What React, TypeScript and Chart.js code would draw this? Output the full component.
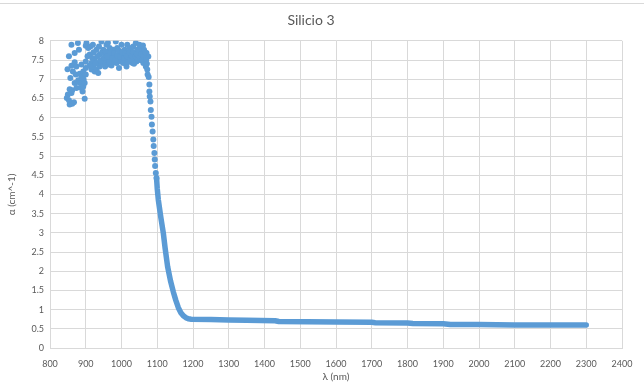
import React, { useEffect, useRef } from "react";
import { Chart, registerables } from "chart.js";

Chart.register(...registerables);

const chartTitle = "Silicio 3";
const xAxisTitle = "λ (nm)";
const yAxisTitle = "α (cm^-1)";

// Noisy plateau and discrete upper descent (nm, alpha)
const cloudNm = [
  860, 878, 853, 849, 860, 869, 864, 857, 872, 883, 874, 888, 881, 869, 850, 847, 853, 855, 862, 867,
  860, 855, 862, 874, 869, 879, 883, 888, 891, 894, 897, 893, 897, 888, 893, 900, 900, 900, 902, 900,
  907, 911, 916, 916, 921, 925, 925, 930, 930, 935, 935, 939, 939, 944, 944, 949, 949, 954, 954, 958,
  958, 963, 963, 967, 967, 972, 972, 977, 977, 981, 984, 986, 988, 991, 993, 995, 997, 1000, 1003, 1005,
  1009, 1012, 1014, 1016, 1019, 1021, 1023, 1026, 1028, 1031, 1033, 1036, 1037, 1040, 1042, 1044, 1047, 1050, 1051, 1053,
  1056, 1059, 1061, 1063, 1065, 1068, 1070, 1072, 1075, 1073, 1076,
  905, 910, 913, 918, 922, 927, 932, 937, 941, 946, 951, 956, 960, 965, 969, 974, 979, 983, 988, 992,
  996, 1002, 1007, 1011, 1015, 1018, 1022, 1025, 1029, 1032, 1035, 1039, 1043, 1046, 1049, 1052, 1055, 1058, 1062, 1066,
  1069, 1071, 920, 962, 1060,
  1078, 1078, 1079, 1081, 1082, 1084, 1085, 1087, 1089, 1090, 1092, 1093, 1094, 1096, 1098,
];
const cloudAlpha = [
  7.9, 7.94, 7.6, 7.26, 7.35, 7.44, 7.2, 7.03, 7.12, 7.14, 7.33, 7.38, 7.77, 7.68, 6.6, 6.51, 6.45, 6.34, 6.36, 6.4,
  6.64, 6.74, 6.71, 6.77, 6.9, 6.97, 6.9, 6.77, 6.68, 6.99, 6.49, 6.81, 6.9, 7.07, 7.2, 7.12, 7.29, 7.46, 7.94, 7.87,
  7.81, 7.64, 7.42, 7.25, 7.33, 7.52, 7.2, 7.25, 7.77, 7.42, 7.16, 7.64, 7.33, 7.98, 7.5, 7.77, 7.42, 7.59, 7.33, 7.9,
  7.46, 7.68, 7.38, 7.5, 7.81, 7.36, 7.64, 7.46, 7.77, 7.59, 7.98, 7.42, 7.81, 7.55, 7.29, 7.72, 7.46, 7.9, 7.59, 7.42,
  7.77, 7.5, 7.33, 7.9, 7.64, 7.46, 7.81, 7.59, 7.72, 7.42, 7.85, 7.55, 7.68, 7.94, 7.46, 7.77, 7.59, 7.9, 7.68, 7.5,
  7.81, 7.64, 7.42, 7.77, 7.55, 7.33, 7.68, 7.25, 7.59, 7.12, 7.06,
  7.6, 7.35, 7.85, 7.55, 7.7, 7.4, 7.6, 7.85, 7.48, 7.7, 7.55, 7.72, 7.6, 7.45, 7.7, 7.55, 7.68, 7.5, 7.62, 7.75,
  7.58, 7.7, 7.55, 7.68, 7.6, 7.45, 7.7, 7.52, 7.6, 7.7, 7.4, 7.6, 7.65, 7.5, 7.72, 7.58, 7.65, 7.5, 7.6, 7.7,
  7.5, 7.4, 7.9, 7.95, 7.88,
  6.86, 6.68, 6.55, 6.42, 6.2, 6.02, 5.82, 5.64, 5.43, 5.26, 5.08, 4.91, 4.74, 4.56, 4.43,
];

// Dense lower descent and flat tail (nm, alpha)
const curveNm = [
  1098, 1100, 1103, 1110, 1117, 1122, 1129, 1137, 1145, 1152, 1159, 1166, 1173, 1180, 1187, 1195,
  1250, 1300, 1350, 1430, 1440, 1600, 1700, 1710, 1800, 1815, 1900, 1920, 2000, 2100, 2200, 2300,
];
const curveAlpha = [
  4.43, 4.15, 3.86, 3.4, 2.99, 2.6, 2.12, 1.75, 1.46, 1.24, 1.05, 0.92, 0.84, 0.79, 0.76, 0.75,
  0.74, 0.73, 0.72, 0.71, 0.69, 0.68, 0.67, 0.66, 0.65, 0.64, 0.63, 0.61, 0.61, 0.6, 0.6, 0.6,
];

const xMin = 800;
const xMax = 2400;
const xStep = 100;
const yMin = 0;
const yMax = 8;
const yStep = 0.5;

const BLUE = "#5B9BD5";
const GRID = "#d9d9d9";
const TEXT = "#595959";
const FONT = "Lato, 'Open Sans', sans-serif";

export default function App() {
  const ref = useRef<HTMLCanvasElement | null>(null);

  useEffect(() => {
    if (!ref.current) return;
    const borderPlugin = {
      id: "outerBorder",
      beforeDraw(chart: any) {
        const ctx = chart.ctx;
        ctx.save();
        ctx.fillStyle = "#ffffff";
        ctx.fillRect(0, 0, chart.width, chart.height);
        ctx.strokeStyle = GRID;
        ctx.lineWidth = 1;
        ctx.beginPath();
        ctx.moveTo(0, 3.5);
        ctx.lineTo(chart.width, 3.5);
        ctx.stroke();
        ctx.restore();
      },
    };
    const chart = new Chart(ref.current, {
      type: "scatter",
      data: {
        datasets: [
          {
            data: cloudNm.map((x, i) => ({ x, y: cloudAlpha[i] })),
            backgroundColor: BLUE,
            borderColor: BLUE,
            borderWidth: 0,
            pointRadius: 3,
            showLine: false,
          },
          {
            data: curveNm.map((x, i) => ({ x, y: curveAlpha[i] })),
            backgroundColor: BLUE,
            borderColor: BLUE,
            borderWidth: 5.5,
            pointRadius: 0,
            showLine: true,
            borderCapStyle: "round",
            borderJoinStyle: "round",
            tension: 0,
          } as any,
        ],
      },
      options: {
        animation: false,
        responsive: false,
        maintainAspectRatio: false,
        layout: { padding: { left: 0, right: 22, top: 0, bottom: 0 } },
        plugins: {
          legend: { display: false },
          tooltip: { enabled: false },
          title: {
            display: true,
            text: chartTitle,
            color: TEXT,
            font: { family: FONT, size: 14, weight: "normal", lineHeight: 1.2 },
            padding: { top: 12, bottom: 12 },
          },
        },
        scales: {
          x: {
            type: "linear",
            min: xMin,
            max: xMax,
            afterFit: (s: any) => {
              s.height = 37;
            },
            ticks: {
              stepSize: xStep,
              color: TEXT,
              font: { family: FONT, size: 9 },
              padding: 11,
              maxRotation: 0,
              autoSkip: false,
              callback: (v: any) => String(v),
            },
            grid: { color: GRID, drawTicks: false },
            border: { color: GRID },
            title: {
              display: true,
              text: xAxisTitle,
              color: TEXT,
              font: { family: FONT, size: 10, lineHeight: 1.2 },
              padding: { top: 0, bottom: 2 },
            },
          },
          y: {
            type: "linear",
            min: yMin,
            max: yMax,
            afterFit: (s: any) => {
              s.width = 50;
            },
            ticks: {
              stepSize: yStep,
              color: TEXT,
              font: { family: FONT, size: 9 },
              padding: 6,
              autoSkip: false,
              callback: (v: any) => String(Math.round(Number(v) * 10) / 10),
            },
            grid: { color: GRID, drawTicks: false },
            border: { color: GRID },
            title: {
              display: true,
              text: yAxisTitle,
              color: TEXT,
              font: { family: FONT, size: 10, lineHeight: 1.2 },
              padding: { top: 6, bottom: 0 },
            },
          },
        },
      },
      plugins: [borderPlugin],
    } as any);
    return () => chart.destroy();
  }, []);

  return (
    <div style={{ position: "fixed", left: 0, top: 0, width: 644, height: 385, background: "#fff" }}>
      <canvas ref={ref} width={644} height={385} style={{ width: 644, height: 385, display: "block" }} />
    </div>
  );
}
